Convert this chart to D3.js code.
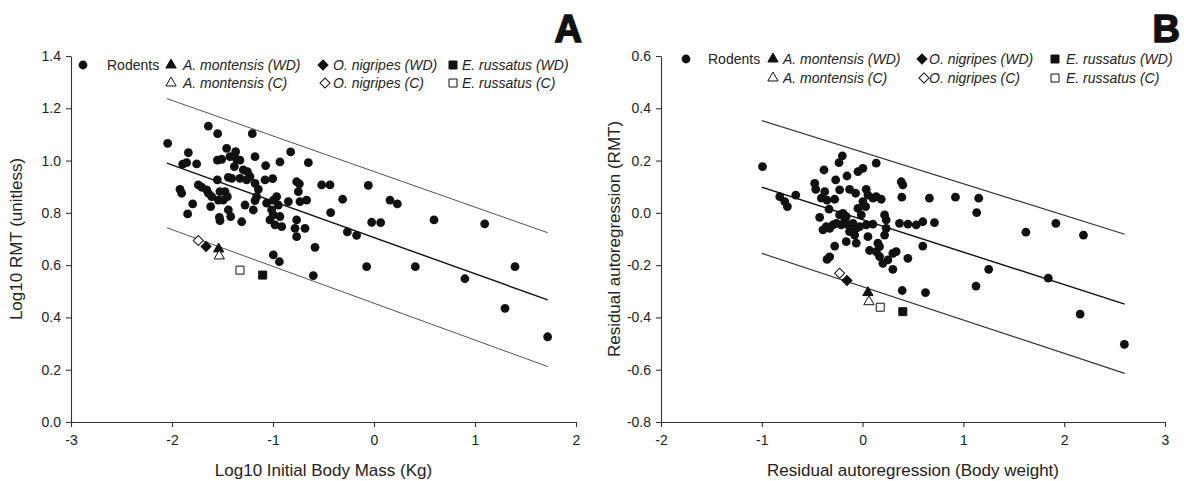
<!DOCTYPE html>
<html><head><meta charset="utf-8">
<script src="https://cdn.jsdelivr.net/npm/d3@7"></script>
<style>body{margin:0;background:#fff} svg{display:block} text{font-family:"Liberation Sans",Arial,sans-serif}</style>
</head><body><svg id="chart" width="1184" height="481"></svg>
<script>
// ---------- DATA ----------
const xTicksA = [-3, -2, -1, 0, 1, 2];
const yTicksA = [0, 0.2, 0.4, 0.6, 0.8, 1.0, 1.2, 1.4];
const xTicksB = [-2, -1, 0, 1, 2, 3];
const yTicksB = [-0.8, -0.6, -0.4, -0.2, 0, 0.2, 0.4, 0.6];

const speciesNames = ["A. montensis (WD)", "A. montensis (C)", "O. nigripes (WD)", "O. nigripes (C)", "E. russatus (WD)", "E. russatus (C)"];
const speciesA_x = [-1.538, -1.532, -1.663, -1.740, -1.102, -1.327];
const speciesA_y = [0.662, 0.635, 0.671, 0.694, 0.562, 0.581];
const speciesB_x = [0.053, 0.063, -0.155, -0.228, 0.399, 0.175];
const speciesB_y = [-0.305, -0.340, -0.259, -0.231, -0.378, -0.361];

// regression line (middle) and prediction bands (upper/lower), at the two x ends
const fitA_x = [-2.05, 1.72];
const fitA_mid = [0.99, 0.467];
const fitA_upper = [1.237, 0.724];
const fitA_lower = [0.743, 0.212];
const fitB_x = [-1.0, 2.6];
const fitB_mid = [0.098, -0.349];
const fitB_upper = [0.353, -0.082];
const fitB_lower = [-0.155, -0.614];

const rodentsA = [[-2.043,1.066],[-1.640,1.132],[-1.548,1.103],[-1.205,1.103],[-1.838,1.030],[-1.459,1.047],[-1.370,1.034],[-1.178,1.015],[-0.825,1.033],[-1.894,0.986],[-1.855,0.992],[-1.756,0.987],[-1.551,1.002],[-1.508,1.005],[-1.426,1.015],[-1.360,1.005],[-1.327,1.002],[-1.073,0.981],[-0.931,0.995],[-0.650,0.992],[-1.383,0.977],[-1.294,0.964],[-1.254,0.958],[-1.228,0.939],[-1.261,0.926],[-1.327,0.932],[-1.409,0.932],[-1.442,0.936],[-1.551,0.926],[-1.079,0.926],[-1.003,0.931],[-0.766,0.919],[-1.178,0.913],[-1.921,0.890],[-1.904,0.875],[-1.739,0.907],[-1.706,0.898],[-1.657,0.888],[-1.640,0.875],[-1.607,0.862],[-1.525,0.881],[-1.475,0.881],[-1.452,0.862],[-1.492,0.849],[-1.541,0.849],[-1.617,0.824],[-1.795,0.834],[-1.845,0.796],[-1.277,0.830],[-1.195,0.811],[-1.145,0.890],[-1.162,0.862],[-1.178,0.847],[-1.063,0.837],[-0.997,0.849],[-0.964,0.862],[-0.947,0.830],[-1.013,0.811],[-0.997,0.792],[-0.931,0.786],[-1.030,0.773],[-0.980,0.754],[-0.914,0.747],[-0.749,0.881],[-0.733,0.843],[-0.667,0.849],[-0.518,0.907],[-0.436,0.907],[-0.429,0.801],[-0.848,0.843],[-0.766,0.773],[-0.782,0.741],[-0.766,0.709],[-0.683,0.741],[-1.442,0.811],[-1.419,0.786],[-1.531,0.783],[-1.525,0.770],[-1.310,0.766],[-0.584,0.668],[-0.997,0.639],[-0.937,0.613],[-0.601,0.560],[-0.739,0.911],[-0.056,0.905],[-0.310,0.852],[0.158,0.849],[0.231,0.834],[-0.023,0.764],[0.066,0.763],[0.594,0.773],[1.096,0.758],[-0.264,0.727],[-0.172,0.714],[-0.073,0.594],[0.409,0.594],[0.900,0.548],[1.396,0.594],[1.297,0.435],[1.719,0.326]];

const rodentsB = [[-0.993,0.177],[-0.201,0.218],[-0.234,0.192],[0.135,0.190],[-0.383,0.164],[0.003,0.170],[-0.046,0.158],[-0.155,0.141],[-0.267,0.126],[0.383,0.119],[0.399,0.107],[-0.475,0.113],[-0.465,0.090],[-0.822,0.062],[-0.772,0.043],[-0.746,0.024],[-0.663,0.068],[-0.376,0.081],[-0.409,0.056],[-0.353,0.049],[-0.228,0.088],[-0.277,0.052],[-0.129,0.090],[-0.069,0.075],[0.036,0.090],[0.053,0.068],[0.102,0.056],[0.185,0.052],[0.135,0.062],[0.389,0.060],[0.663,0.056],[0.921,0.060],[0.003,0.043],[0.030,0.024],[-0.046,0.017],[-0.013,-0.008],[-0.333,0.014],[-0.426,-0.017],[-0.228,-0.008],[-0.195,-0.002],[-0.162,-0.014],[-0.178,-0.033],[-0.261,-0.040],[-0.211,-0.046],[-0.145,-0.046],[-0.096,-0.040],[-0.360,-0.053],[-0.327,-0.059],[-0.294,-0.046],[-0.393,-0.065],[-0.129,-0.072],[-0.079,-0.085],[-0.063,-0.059],[-0.030,-0.053],[0.036,-0.046],[0.102,-0.043],[0.218,-0.008],[0.234,-0.027],[0.234,-0.059],[0.218,-0.085],[0.366,-0.040],[0.449,-0.043],[0.532,-0.046],[0.597,-0.034],[0.713,-0.037],[-0.162,-0.110],[-0.063,-0.116],[0.053,-0.091],[0.069,-0.144],[0.152,-0.116],[0.168,-0.129],[0.135,-0.148],[0.168,-0.167],[0.201,-0.193],[0.251,-0.180],[0.300,-0.155],[0.333,-0.148],[-0.277,-0.127],[0.597,-0.127],[0.449,-0.174],[0.300,-0.216],[-0.353,-0.178],[-0.327,-0.168],[0.393,-0.297],[0.624,-0.305],[1.152,0.056],[1.132,0.001],[1.620,-0.074],[1.917,-0.040],[2.191,-0.085],[1.251,-0.216],[1.842,-0.250],[1.125,-0.280],[2.158,-0.387],[2.597,-0.503]];

const rodentsLabel = "Rodents";
const xTitleA = "Log10 Initial Body Mass (Kg)";
const yTitleA = "Log10 RMT (unitless)";
const xTitleB = "Residual autoregression (Body weight)";
const yTitleB = "Residual autoregression (RMT)";

// ---------- STYLE ----------
const speciesStyle = [
  {shape: "triangle", filled: true}, {shape: "triangle", filled: false},
  {shape: "diamond", filled: true}, {shape: "diamond", filled: false},
  {shape: "square", filled: true}, {shape: "square", filled: false}
];
const INK = "#111";
const TXT = "#222";

const svg = d3.select("#chart");
svg.append("rect").attr("width", 1184).attr("height", 481).attr("fill", "#fff");

function symbolPath(shape) {
  if (shape === "triangle") return d3.symbol(d3.symbolTriangle, 46)();
  if (shape === "square") return d3.symbol(d3.symbolSquare, 64)();
  return d3.symbol(d3.symbolSquare, 50)();
}
function drawSymbol(g, shape, filled, cx, cy) {
  g.append("path")
    .attr("d", symbolPath(shape))
    .attr("transform", `translate(${cx},${cy})` + (shape === "diamond" ? " rotate(45)" : ""))
    .attr("fill", filled ? INK : "#fff")
    .attr("stroke", INK)
    .attr("stroke-width", 1);
}

function panel(cfg) {
  const g = svg.append("g");
  const x = d3.scaleLinear().domain(cfg.xDomain).range(cfg.xRange);
  const y = d3.scaleLinear().domain(cfg.yDomain).range(cfg.yRange);

  // axes
  const ax = g.append("g").attr("transform", `translate(0,${cfg.yRange[0]})`)
    .call(d3.axisBottom(x).tickValues(cfg.xTicks).tickFormat(d => String(d)).tickSize(5).tickSizeOuter(0).tickPadding(8));
  const ay = g.append("g").attr("transform", `translate(${cfg.xRange[0]},0)`)
    .call(d3.axisLeft(y).tickValues(cfg.yTicks).tickFormat(d => d.toFixed(1)).tickSize(5).tickSizeOuter(0).tickPadding(5));
  [ax, ay].forEach(a => {
    a.selectAll("path,line").attr("stroke", "#333").attr("stroke-width", 1.1);
    a.selectAll("text").attr("fill", TXT).attr("font-size", 14).attr("font-family", '"Liberation Sans",Arial,sans-serif');
  });

  // fit lines
  const lines = [
    {ys: cfg.fitUpper, stroke: cfg.bandStroke, w: cfg.bandWidth},
    {ys: cfg.fitLower, stroke: cfg.bandStroke, w: cfg.bandWidth},
    {ys: cfg.fitMid, stroke: INK, w: 1.4}
  ];
  lines.forEach(l => {
    g.append("line")
      .attr("x1", x(cfg.fitX[0])).attr("y1", y(l.ys[0]))
      .attr("x2", x(cfg.fitX[1])).attr("y2", y(l.ys[1]))
      .attr("stroke", l.stroke).attr("stroke-width", l.w);
  });

  // rodents
  g.append("g").selectAll("circle").data(cfg.rodents).join("circle")
    .attr("cx", d => x(d[0])).attr("cy", d => y(d[1])).attr("r", 4.4).attr("fill", INK);

  // species
  const sg = g.append("g");
  speciesNames.forEach((n, i) => {
    drawSymbol(sg, speciesStyle[i].shape, speciesStyle[i].filled, x(cfg.spX[i]), y(cfg.spY[i]));
  });

  // titles
  g.append("text").attr("x", (cfg.xRange[0] + cfg.xRange[1]) / 2).attr("y", 476)
    .attr("text-anchor", "middle").attr("font-size", 17).attr("fill", TXT).text(cfg.xTitle);
  const ymid = (cfg.yRange[0] + cfg.yRange[1]) / 2;
  g.append("text").attr("transform", `translate(${cfg.yTitleX},${ymid}) rotate(-90)`)
    .attr("text-anchor", "middle").attr("font-size", 17).attr("fill", TXT).text(cfg.yTitle);

  // panel letter
  g.append("text").attr("x", cfg.letterX).attr("y", 42).attr("text-anchor", "end")
    .attr("font-size", 38).attr("font-weight", "bold").attr("fill", INK)
    .attr("stroke", INK).attr("stroke-width", 1.5).text(cfg.letter);

  // legend
  const L = cfg.legend;
  const lg = g.append("g").attr("font-size", 14).attr("fill", TXT);
  lg.append("circle").attr("cx", L.circleX).attr("cy", L.row1).attr("r", 4.4).attr("fill", INK);
  lg.append("text").attr("x", L.rodX).attr("y", L.row1 + 5).attr("fill", TXT).text(rodentsLabel);
  speciesNames.forEach((n, i) => {
    const col = Math.floor(i / 2), row = i % 2 ? L.row2 : L.row1;
    const mx = L.markX[col] + (row === L.row2 && speciesStyle[i].shape === "diamond" ? 2 : 0);
    drawSymbol(lg, speciesStyle[i].shape, speciesStyle[i].filled, mx, row);
    lg.append("text").attr("x", L.textX[col]).attr("y", row + 5).attr("font-style", "italic").attr("fill", TXT).text(n);
  });
}

panel({
  xDomain: [-3, 2], xRange: [71, 576], yDomain: [0, 1.4], yRange: [422, 56],
  xTicks: xTicksA, yTicks: yTicksA, rodents: rodentsA, spX: speciesA_x, spY: speciesA_y,
  fitX: fitA_x, fitMid: fitA_mid, fitUpper: fitA_upper, fitLower: fitA_lower,
  bandStroke: "#555", bandWidth: 1,
  xTitle: xTitleA, yTitle: yTitleA, yTitleX: 22, letter: "A", letterX: 582,
  legend: {circleX: 83, rodX: 107, row1: 65, row2: 83, markX: [171, 323, 453], textX: [183, 333, 462]}
});
panel({
  xDomain: [-2, 3], xRange: [661, 1165], yDomain: [-0.8, 0.6], yRange: [422, 56],
  xTicks: xTicksB, yTicks: yTicksB, rodents: rodentsB, spX: speciesB_x, spY: speciesB_y,
  fitX: fitB_x, fitMid: fitB_mid, fitUpper: fitB_upper, fitLower: fitB_lower,
  bandStroke: "#333", bandWidth: 1.2,
  xTitle: xTitleB, yTitle: yTitleB, yTitleX: 620, letter: "B", letterX: 1180,
  legend: {circleX: 686, rodX: 708, row1: 59, row2: 78, markX: [773, 922, 1055], textX: [783, 929, 1066]}
});
</script></body></html>
